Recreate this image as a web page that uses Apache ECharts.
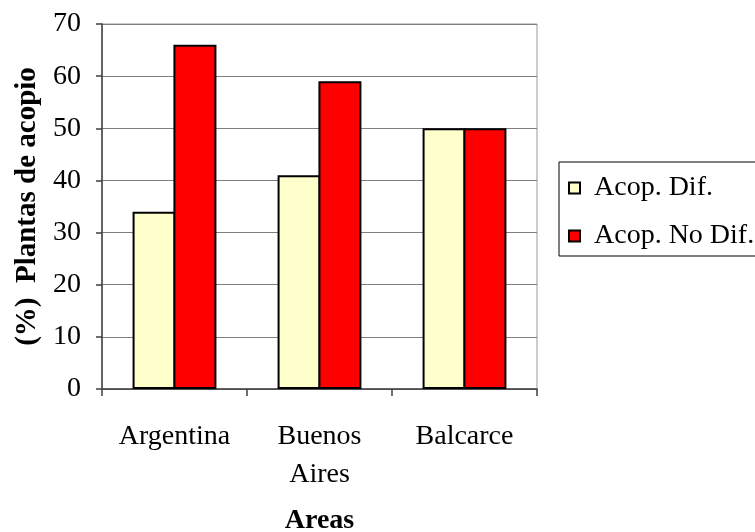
<!DOCTYPE html>
<html>
<head>
<meta charset="utf-8">
<script src="https://cdn.jsdelivr.net/npm/echarts@6/dist/echarts.min.js"></script>
<style>
  html, body { margin: 0; padding: 0; background: #fff; }
  #chart { width: 755px; height: 532px; }
</style>
</head>
<body>
<div id="chart"></div>
<script>
// Areas and the share of collection plants in each
var categories = ['Argentina', 'Buenos\nAires', 'Balcarce'];
var seriesNames = ['Acop. Dif.', 'Acop. No Dif.'];
var acopDif = [34, 41, 50];
var acopNoDif = [66, 59, 50];
var yTicks = { min: 0, max: 70, interval: 10 };

var FONT = '"Liberation Serif", "Times New Roman", serif';
var chart = echarts.init(document.getElementById('chart'), null, { renderer: 'canvas' });

chart.setOption({
  backgroundColor: '#ffffff',
  animation: false,
  textStyle: { fontFamily: FONT, color: '#000' },
  grid: {
    left: 102, right: 218, top: 24, bottom: 143,
    containLabel: false,
    outerBoundsMode: 'none',
    show: true, borderColor: '#9a9a9a', borderWidth: 1
  },
  legend: {
    orient: 'vertical',
    left: 559, top: 162,
    padding: [12, 40, 6, 9],
    itemGap: 20,
    itemWidth: 11, itemHeight: 11,
    icon: 'rect',
    backgroundColor: '#fff',
    borderColor: '#000', borderWidth: 1,
    textStyle: { fontFamily: FONT, fontSize: 28, color: '#000', padding: [0, 0, 0, 9] },
    data: seriesNames
  },
  xAxis: {
    type: 'category',
    data: categories,
    name: 'Areas',
    nameLocation: 'middle',
    nameGap: 118,
    nameTextStyle: { fontFamily: FONT, fontSize: 28, fontWeight: 'bold', color: '#000' },
    axisLine: { lineStyle: { color: '#404040', width: 1.5 } },
    axisTick: { show: true, length: 7, lineStyle: { color: '#404040', width: 1.5 } },
    axisLabel: { fontFamily: FONT, fontSize: 28, color: '#000', lineHeight: 38, margin: 29 }
  },
  yAxis: {
    type: 'value',
    min: yTicks.min, max: yTicks.max, interval: yTicks.interval,
    name: '(%)  Plantas de acopio',
    nameLocation: 'middle',
    nameGap: 59,
    nameTextStyle: { fontFamily: FONT, fontSize: 29, fontWeight: 'bold', color: '#000' },
    axisLine: { show: true, lineStyle: { color: '#404040', width: 1.5 } },
    axisTick: { show: true, length: 6, lineStyle: { color: '#404040', width: 1.5 } },
    axisLabel: { fontFamily: FONT, fontSize: 28, color: '#000', margin: 21 },
    splitLine: { lineStyle: { color: '#7f7f7f', width: 1.2 } }
  },
  series: [
    {
      name: seriesNames[0], type: 'bar', data: acopDif,
      barWidth: 43, barGap: '-5%',
      itemStyle: { color: '#ffffcc', borderColor: '#000', borderWidth: 2 }
    },
    {
      name: seriesNames[1], type: 'bar', data: acopNoDif,
      barWidth: 43, barGap: '-5%',
      itemStyle: { color: '#ff0000', borderColor: '#000', borderWidth: 2 }
    }
  ]
});
</script>
</body>
</html>
